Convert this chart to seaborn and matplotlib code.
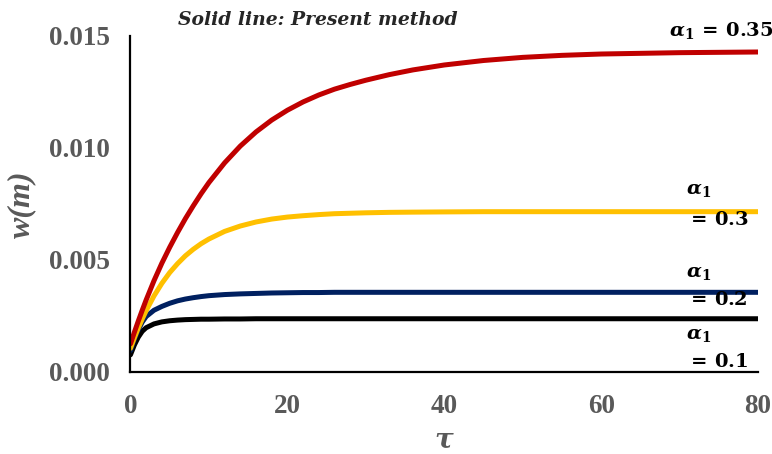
import numpy as np
import pandas as pd
import matplotlib
matplotlib.use('Agg')
import matplotlib.pyplot as plt
import seaborn as sns

# values
tau = [0, 0.5, 1, 1.5, 2, 3, 4, 5, 6, 7, 8, 9, 10, 12, 14, 16, 18, 20,
       22, 24, 26, 28, 30, 33, 36, 40, 45, 50, 55, 60, 70, 80]

w_035 = [0.00125, 0.00177, 0.00227, 0.00275, 0.00321, 0.00407, 0.00485, 0.00556, 0.00622,
         0.00684, 0.00741, 0.00795, 0.00845, 0.00933, 0.01008, 0.01071, 0.01124, 0.01168,
         0.01205, 0.01236, 0.01262, 0.01283, 0.01302, 0.01327, 0.01348, 0.01370, 0.01390,
         0.01404, 0.01413, 0.01419, 0.01425, 0.01428]
w_03 = [0.00105, 0.00152, 0.00196, 0.00236, 0.00273, 0.00339, 0.00395, 0.00443, 0.00483,
        0.00518, 0.00547, 0.00572, 0.00593, 0.00627, 0.00651, 0.00669, 0.00682, 0.00691,
        0.00697, 0.00702, 0.00706, 0.00708, 0.00710, 0.00712, 0.00713, 0.00714, 0.00715,
        0.00715, 0.00715, 0.00715, 0.00715, 0.00715]
w_02 = [0.00095, 0.00145, 0.00188, 0.00222, 0.00247, 0.00275, 0.00292, 0.00306, 0.00317,
        0.00325, 0.00331, 0.00336, 0.00340, 0.00345, 0.00348, 0.00350, 0.00352, 0.00353,
        0.00354, 0.00354, 0.00355, 0.00355, 0.00355, 0.00355, 0.00355, 0.00355, 0.00355,
        0.00355, 0.00355, 0.00355, 0.00355, 0.00355]
w_01 = [0.00076, 0.00120, 0.00155, 0.00181, 0.00197, 0.00214, 0.00223, 0.00228, 0.00231,
        0.00233, 0.00234, 0.00235, 0.00235, 0.00236, 0.00236, 0.00237, 0.00237, 0.00237,
        0.00237, 0.00237, 0.00237, 0.00237, 0.00237, 0.00237, 0.00237, 0.00237, 0.00237,
        0.00237, 0.00237, 0.00237, 0.00237, 0.00237]

series = ['0.1', '0.2', '0.3', '0.35']
colors = ['#000000', '#002060', '#FFC000', '#C00000']
xticks = [0, 20, 40, 60, 80]
yticks = [0.000, 0.005, 0.010, 0.015]

df = pd.DataFrame({
    'tau': tau * 4,
    'w': w_01 + w_02 + w_03 + w_035,
    'alpha': [s for s in series for _ in tau],
})

sns.set_style('white')
plt.rcParams['mathtext.fontset'] = 'custom'
plt.rcParams['mathtext.rm'] = 'DejaVu Serif:bold'
plt.rcParams['mathtext.it'] = 'DejaVu Serif:italic:bold'
plt.rcParams['mathtext.bf'] = 'DejaVu Serif:bold'

fig = plt.figure(figsize=(7.72, 4.54), dpi=100)
ax = fig.add_axes([0.169, 0.181, 0.813, 0.740])

sns.lineplot(data=df, x='tau', y='w', hue='alpha', palette=colors,
             linewidth=3.6, legend=False, ax=ax)

ax.set_xlim(0, 80)
ax.set_ylim(0, 0.015)
ax.set_xticks(xticks)
ax.set_yticks(yticks)
ax.set_xticklabels([str(t) for t in xticks])
ax.set_yticklabels(['%.3f' % t for t in yticks])
for lab in ax.get_xticklabels() + ax.get_yticklabels():
    lab.set_fontfamily('Liberation Serif')
    lab.set_fontweight('bold')
    lab.set_fontsize(19.5)
    lab.set_color('#595959')
ax.tick_params(axis='x', length=0, pad=16)
ax.tick_params(axis='y', length=0, pad=15)

for s in ['top', 'right']:
    ax.spines[s].set_visible(False)
for s in ['left', 'bottom']:
    ax.spines[s].set_color('black')
    ax.spines[s].set_linewidth(1.6)

ax.set_xlabel(r'$\tau$', fontsize=20, color='#595959', labelpad=5)
ax.set_ylabel('w(m)', fontfamily='Liberation Serif', fontweight='bold', fontstyle='italic',
              fontsize=23, color='#595959', labelpad=9)

fig.text(0.2306, 0.956, 'Solid line: Present method', fontfamily='DejaVu Serif',
         fontweight='bold', fontstyle='italic', fontsize=13.5, va='center', ha='left')

lab_kw = dict(fontsize=14, color='black', va='center', ha='left', clip_on=False)
ax.text(68.6, 0.01523, r'$\alpha_1\,=\,0.35$', **lab_kw)
ax.text(70.8, 0.00815, r'$\alpha_1$', **lab_kw)
ax.text(70.8, 0.00680, r'$=\,0.3$', **lab_kw)
ax.text(70.8, 0.00443, r'$\alpha_1$', **lab_kw)
ax.text(70.8, 0.00322, r'$=\,0.2$', **lab_kw)
ax.text(70.8, 0.00166, r'$\alpha_1$', **lab_kw)
ax.text(70.8, 0.00045, r'$=\,0.1$', **lab_kw)

fig.savefig('out.png', dpi=100)
